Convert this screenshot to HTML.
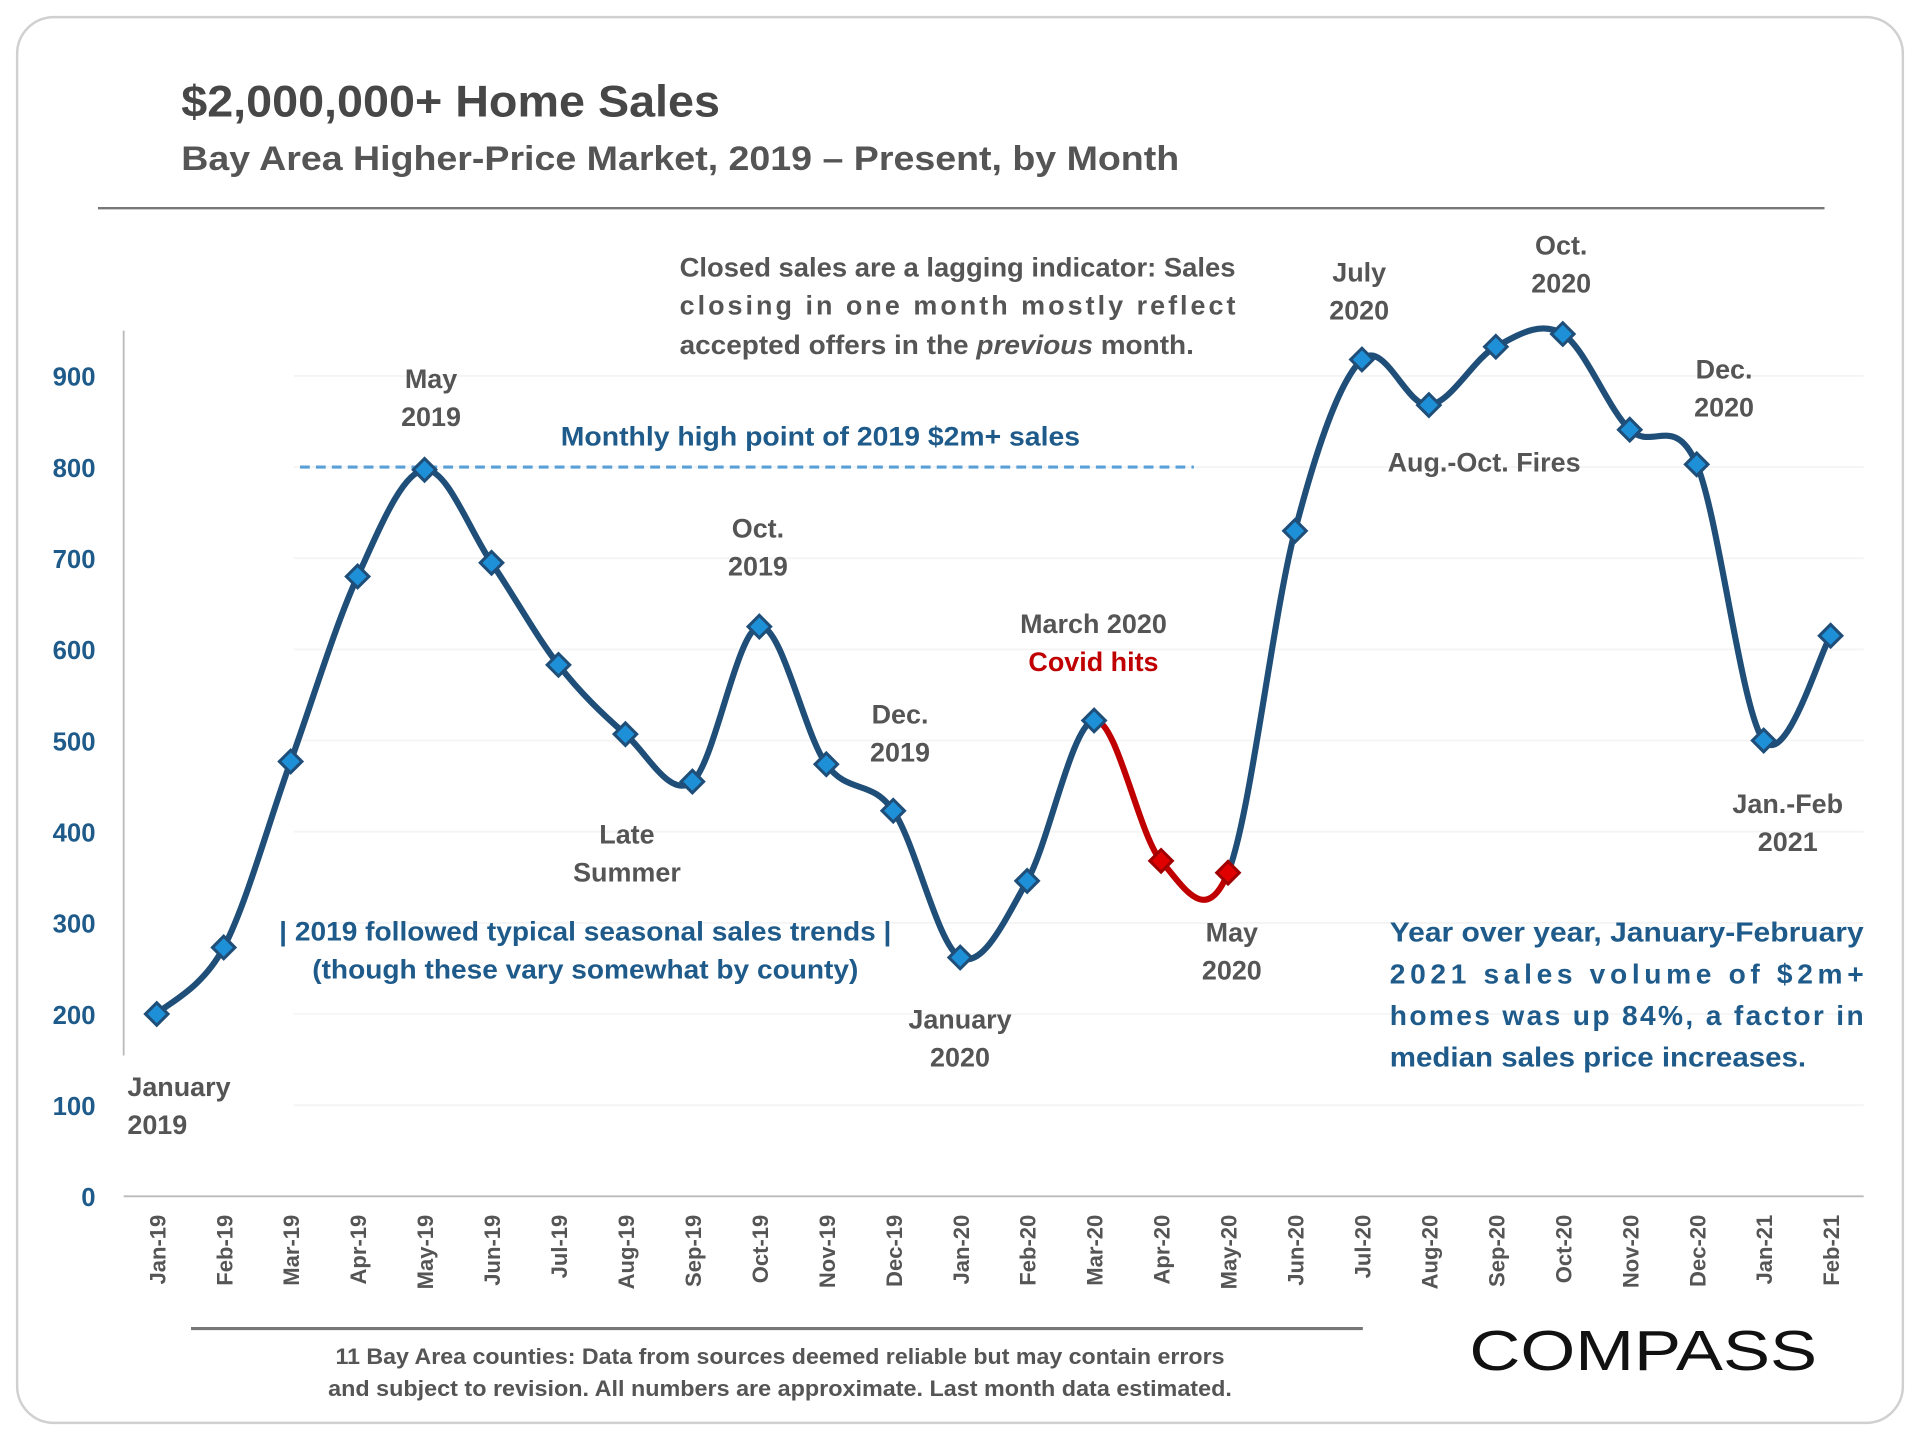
<!DOCTYPE html>
<html><head><meta charset="utf-8"><style>
html,body{margin:0;padding:0;background:#fff;}
svg{display:block;}
text{font-family:"Liberation Sans Narrow","Liberation Sans",sans-serif;font-weight:bold;white-space:pre;}
</style></head><body>
<svg id="chart" width="1920" height="1440" viewBox="0 0 1568 1176" xmlns="http://www.w3.org/2000/svg">
<rect x="14" y="14" width="1540" height="1148" rx="30" fill="#fff" stroke="#d0d0d0" stroke-width="2"/>
<text x="148" y="95" font-size="36" fill="#474747" textLength="440" lengthAdjust="spacingAndGlyphs">$2,000,000+ Home Sales</text>
<text x="148" y="139" font-size="28" fill="#555" textLength="815" lengthAdjust="spacingAndGlyphs">Bay Area Higher-Price Market, 2019 – Present, by Month</text>
<line x1="80" y1="170" x2="1490" y2="170" stroke="#777" stroke-width="2"/>
<g id="grid"></g>
<line x1="101" y1="270" x2="101" y2="862" stroke="#bbb" stroke-width="1.5"/>
<line x1="101" y1="977" x2="1522" y2="977" stroke="#bbb" stroke-width="1.5"/>
<g id="yticks"></g>
<g id="xticks"></g>
<line id="highline" x1="245" x2="975" stroke="#5aa0d8" stroke-width="2.5" stroke-dasharray="8,5"/>
<g id="series"></g>

<g font-size="22" fill="#555">
<text x="555" y="226" textLength="454" lengthAdjust="spacingAndGlyphs">Closed sales are a lagging indicator: Sales</text>
<text x="555" y="257" textLength="454" lengthAdjust="spacing">closing in one month mostly reflect</text>
<text x="555" y="289" textLength="420" lengthAdjust="spacingAndGlyphs">accepted offers in the <tspan font-style="italic">previous</tspan> month.</text>
<text x="670" y="364" text-anchor="middle" fill="#1f5b8a" textLength="424" lengthAdjust="spacingAndGlyphs">Monthly high point of 2019 $2m+ sales</text>
<text x="352" y="317" text-anchor="middle">May</text>
<text x="352" y="348" text-anchor="middle">2019</text>
<text x="619" y="439" text-anchor="middle">Oct.</text>
<text x="619" y="470" text-anchor="middle">2019</text>
<text x="512" y="689" text-anchor="middle">Late</text>
<text x="512" y="720" text-anchor="middle">Summer</text>
<text x="735" y="591" text-anchor="middle">Dec.</text>
<text x="735" y="622" text-anchor="middle">2019</text>
<text x="784" y="840" text-anchor="middle">January</text>
<text x="784" y="871" text-anchor="middle">2020</text>
<text x="893" y="517" text-anchor="middle">March 2020</text>
<text x="893" y="548" text-anchor="middle" fill="#c00000">Covid hits</text>
<text x="1006" y="769" text-anchor="middle">May</text>
<text x="1006" y="800" text-anchor="middle">2020</text>
<text x="1110" y="230" text-anchor="middle">July</text>
<text x="1110" y="261" text-anchor="middle">2020</text>
<text x="1275" y="208" text-anchor="middle">Oct.</text>
<text x="1275" y="239" text-anchor="middle">2020</text>
<text x="1212" y="385" text-anchor="middle">Aug.-Oct. Fires</text>
<text x="1408" y="309" text-anchor="middle">Dec.</text>
<text x="1408" y="340" text-anchor="middle">2020</text>
<text x="1460" y="664" text-anchor="middle">Jan.-Feb</text>
<text x="1460" y="695" text-anchor="middle">2021</text>
<text x="104" y="895">January</text>
<text x="104" y="926">2019</text>
<text x="478" y="768" text-anchor="middle" fill="#1f5b8a" textLength="500" lengthAdjust="spacingAndGlyphs">| 2019 followed typical seasonal sales trends |</text>
<text x="478" y="799" text-anchor="middle" fill="#1f5b8a" textLength="446" lengthAdjust="spacingAndGlyphs">(though these vary somewhat by county)</text>
<g fill="#1f5b8a" font-size="23">
<text x="1135" y="769" textLength="387" lengthAdjust="spacingAndGlyphs">Year over year, January-February</text>
<text x="1135" y="803" textLength="387" lengthAdjust="spacing">2021 sales volume of $2m+</text>
<text x="1135" y="837" textLength="387" lengthAdjust="spacing">homes was up 84%, a factor in</text>
<text x="1135" y="871" textLength="340" lengthAdjust="spacingAndGlyphs">median sales price increases.</text>
</g>
</g>
<line x1="156" y1="1085" x2="1113" y2="1085" stroke="#777" stroke-width="2.5"/>
<text x="637" y="1114" text-anchor="middle" font-size="18" fill="#555" textLength="726" lengthAdjust="spacingAndGlyphs">11 Bay Area counties: Data from sources deemed reliable but may contain errors</text>
<text x="637" y="1140" text-anchor="middle" font-size="18" fill="#555" textLength="738" lengthAdjust="spacingAndGlyphs">and subject to revision. All numbers are approximate. Last month data estimated.</text>
<text x="1200" y="1119" font-size="46" fill="#111" style="font-family:'Liberation Sans',sans-serif;font-weight:normal" textLength="284" lengthAdjust="spacingAndGlyphs">COMPASS</text>
</svg>
<script>
const categories=["Jan-19","Feb-19","Mar-19","Apr-19","May-19","Jun-19","Jul-19","Aug-19","Sep-19","Oct-19","Nov-19","Dec-19","Jan-20","Feb-20","Mar-20","Apr-20","May-20","Jun-20","Jul-20","Aug-20","Sep-20","Oct-20","Nov-20","Dec-20","Jan-21","Feb-21"];
const salesValues=[200,273,477,680,797,695,583,507,455,625,474,423,262,346,522,368,355,730,918,868,932,946,841,803,500,615];
const yTickValues=[0,100,200,300,400,500,600,700,800,900];
const highPoint2019=800;
const covidStart=14, covidEnd=16;

const NS="http://www.w3.org/2000/svg";
const x0=128,x1=1495,yZero=977,yPer=670/900;
function xs(i){return x0+i*(x1-x0)/(categories.length-1);}
function ys(v){return yZero-v*yPer;}
function mk(tag,attrs,parent){const e=document.createElementNS(NS,tag);for(const k in attrs)e.setAttribute(k,attrs[k]);parent.appendChild(e);return e;}

const grid=document.getElementById('grid'),yt=document.getElementById('yticks'),xt=document.getElementById('xticks'),ser=document.getElementById('series');
yTickValues.forEach(v=>{
  if(v>0){const g=mk('line',{x1:240,x2:1522,y1:ys(v),y2:ys(v),stroke:'#f4f4f4','stroke-width':1.5},grid);
  
  }
  const t=mk('text',{x:78,y:ys(v)+8,'text-anchor':'end','font-size':21,fill:'#1f5b8a'},yt);
  t.textContent=v;
  
  
});
categories.forEach((c,i)=>{
  const t=mk('text',{transform:`translate(${xs(i)+7},992) rotate(-90)`,'text-anchor':'end','font-size':18,fill:'#555'},xt);
  t.textContent=c;
  
  
});
const hl=document.getElementById('highline');hl.setAttribute('y1',ys(highPoint2019));hl.setAttribute('y2',ys(highPoint2019));

const pts=salesValues.map((v,i)=>[xs(i),ys(v)]);
function seg(i){const p0=pts[Math.max(i-1,0)],p1=pts[i],p2=pts[i+1],p3=pts[Math.min(i+2,pts.length-1)];const t=1/6;
  return `C${p1[0]+(p2[0]-p0[0])*t},${p1[1]+(p2[1]-p0[1])*t} ${p2[0]-(p3[0]-p1[0])*t},${p2[1]-(p3[1]-p1[1])*t} ${p2[0]},${p2[1]}`;}
function pathFor(a,b){let d=`M${pts[a][0]},${pts[a][1]}`;for(let i=a;i<b;i++)d+=seg(i);return d;}
const l1=mk('path',{d:pathFor(0,covidStart),fill:'none',stroke:'#1f4e79','stroke-width':5},ser);


const l2=mk('path',{d:pathFor(covidStart,covidEnd),fill:'none',stroke:'#c00000','stroke-width':5},ser);


const l3=mk('path',{d:pathFor(covidEnd,pts.length-1),fill:'none',stroke:'#1f4e79','stroke-width':5},ser);


pts.forEach((p,i)=>{
  const red=i>covidStart&&i<=covidEnd;
  const m=mk('rect',{x:p[0]-6.5,y:p[1]-6.5,width:13,height:13,transform:`rotate(45 ${p[0]} ${p[1]})`,fill:red?'#e00000':'#1e90d8',stroke:red?'#a00000':'#1f4e79','stroke-width':2.5},ser);
  
  
});
</script>
</body></html>
